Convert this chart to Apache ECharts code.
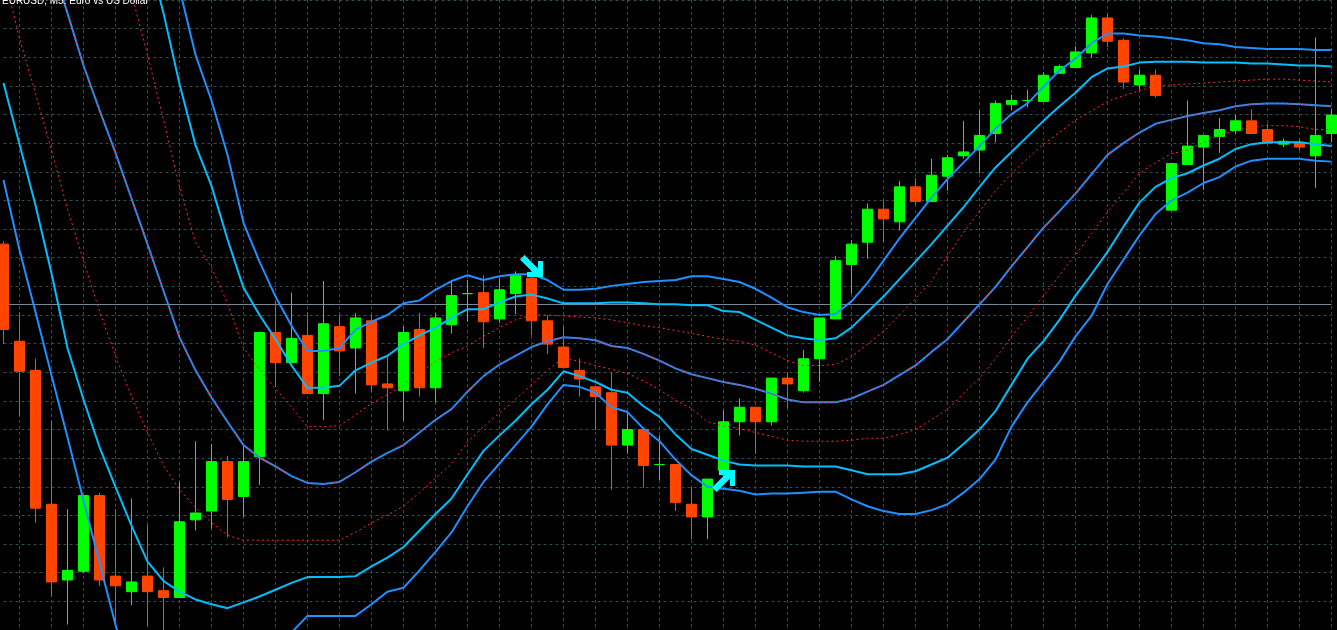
<!DOCTYPE html>
<html>
<head>
<meta charset="utf-8">
<title>EURUSD, M5</title>
<script src="https://cdn.jsdelivr.net/npm/echarts@6/dist/echarts.min.js"></script>
<style>
  html, body { margin: 0; padding: 0; background: #000; }
  #chart { width: 1337px; height: 630px; }
</style>
</head>
<body>
<div id="chart"></div>
<script>
// EURUSD M5 bars (oldest first)
var openP = [
  1.09520, 1.09320, 1.09260, 1.08984, 1.08828, 1.08846, 1.09002, 1.08836, 1.08804, 1.08836,
  1.08806, 1.08792, 1.08952, 1.08970, 1.09072, 1.09000, 1.09082, 1.09338, 1.09276, 1.09332,
  1.09212, 1.09350, 1.09306, 1.09362, 1.09232, 1.09218, 1.09344, 1.09224, 1.09354, 1.09418,
  1.09420, 1.09366, 1.09418, 1.09450, 1.09362, 1.09308, 1.09260, 1.09226, 1.09214, 1.09106,
  1.09138, 1.09066, 1.09066, 1.08984, 1.08958, 1.09054, 1.09154, 1.09184, 1.09154, 1.09244,
  1.09218, 1.09284, 1.09366, 1.09478, 1.09524, 1.09592, 1.09566, 1.09638, 1.09608, 1.09660,
  1.09702, 1.09714, 1.09748, 1.09808, 1.09816, 1.09814, 1.09872, 1.09884, 1.09914, 1.09986,
  1.09940, 1.09848, 1.09868, 1.09590, 1.09684, 1.09720, 1.09742, 1.09754, 1.09774, 1.09756,
  1.09726, 1.09730, 1.09702, 1.09748
];
var closeP = [
  1.09344, 1.09258, 1.08976, 1.08824, 1.08848, 1.09002, 1.08828, 1.08816, 1.08824, 1.08804,
  1.08792, 1.08948, 1.08966, 1.09072, 1.08994, 1.09072, 1.09338, 1.09276, 1.09326, 1.09212,
  1.09356, 1.09300, 1.09368, 1.09230, 1.09224, 1.09338, 1.09224, 1.09368, 1.09414, 1.09418,
  1.09360, 1.09426, 1.09456, 1.09362, 1.09314, 1.09266, 1.09242, 1.09206, 1.09106, 1.09138,
  1.09064, 1.09066, 1.08988, 1.08958, 1.09036, 1.09154, 1.09184, 1.09154, 1.09244, 1.09232,
  1.09284, 1.09368, 1.09486, 1.09520, 1.09592, 1.09572, 1.09638, 1.09608, 1.09662, 1.09698,
  1.09710, 1.09744, 1.09810, 1.09816, 1.09816, 1.09868, 1.09886, 1.09916, 1.09986, 1.09938,
  1.09854, 1.09868, 1.09826, 1.09686, 1.09722, 1.09744, 1.09756, 1.09774, 1.09748, 1.09728,
  1.09732, 1.09720, 1.09744, 1.09786
];
var lowP = [
  1.09314, 1.09166, 1.08946, 1.08794, 1.08736, 1.08842, 1.08816, 1.08736, 1.08776, 1.08732,
  1.08724, 1.08792, 1.08930, 1.08934, 1.08916, 1.08958, 1.09024, 1.09226, 1.09276, 1.09212,
  1.09158, 1.09248, 1.09212, 1.09216, 1.09136, 1.09156, 1.09206, 1.09194, 1.09336, 1.09360,
  1.09306, 1.09358, 1.09376, 1.09332, 1.09294, 1.09266, 1.09206, 1.09136, 1.09014, 1.09088,
  1.09018, 1.09034, 1.08970, 1.08912, 1.08912, 1.09040, 1.09126, 1.09088, 1.09146, 1.09182,
  1.09214, 1.09236, 1.09366, 1.09418, 1.09490, 1.09524, 1.09548, 1.09602, 1.09608, 1.09630,
  1.09696, 1.09666, 1.09730, 1.09796, 1.09802, 1.09814, 1.09872, 1.09884, 1.09904, 1.09926,
  1.09840, 1.09838, 1.09822, 1.09590, 1.09684, 1.09632, 1.09708, 1.09748, 1.09748, 1.09728,
  1.09720, 1.09714, 1.09636, 1.09730
];
var highP = [
  1.09526, 1.09378, 1.09284, 1.09156, 1.08974, 1.09002, 1.09008, 1.08974, 1.08996, 1.08942,
  1.08854, 1.09030, 1.09114, 1.09108, 1.09084, 1.09106, 1.09338, 1.09402, 1.09420, 1.09378,
  1.09444, 1.09374, 1.09378, 1.09374, 1.09290, 1.09350, 1.09378, 1.09378, 1.09442, 1.09446,
  1.09456, 1.09450, 1.09464, 1.09464, 1.09374, 1.09350, 1.09284, 1.09226, 1.09256, 1.09176,
  1.09138, 1.09126, 1.09066, 1.09020, 1.09036, 1.09178, 1.09202, 1.09184, 1.09244, 1.09256,
  1.09302, 1.09368, 1.09496, 1.09528, 1.09604, 1.09610, 1.09650, 1.09656, 1.09696, 1.09704,
  1.09774, 1.09796, 1.09816, 1.09828, 1.09838, 1.09874, 1.09890, 1.09928, 1.09992, 1.09994,
  1.09944, 1.09880, 1.09880, 1.09686, 1.09816, 1.09744, 1.09780, 1.09786, 1.09798, 1.09768,
  1.09738, 1.09738, 1.09946, 1.09798
];

// band indicator lines, one value per bar
var upOuter = [
  1.11340, 1.11240, 1.11140, 1.11040, 1.10930, 1.10820, 1.10700, 1.10580, 1.10450, 1.10320,
  1.10184, 1.10046, 1.09910, 1.09816, 1.09704, 1.09564, 1.09484, 1.09412, 1.09352, 1.09300,
  1.09300, 1.09306, 1.09344, 1.09360, 1.09374, 1.09398, 1.09404, 1.09426, 1.09444, 1.09456,
  1.09446, 1.09454, 1.09458, 1.09458, 1.09446, 1.09426, 1.09426, 1.09428, 1.09434, 1.09438,
  1.09442, 1.09444, 1.09446, 1.09454, 1.09454, 1.09448, 1.09442, 1.09428, 1.09410, 1.09390,
  1.09380, 1.09374, 1.09376, 1.09402, 1.09440, 1.09486, 1.09532, 1.09574, 1.09616, 1.09654,
  1.09688, 1.09722, 1.09758, 1.09788, 1.09810, 1.09844, 1.09878, 1.09902, 1.09934, 1.09954,
  1.09954, 1.09950, 1.09948, 1.09944, 1.09940, 1.09934, 1.09932, 1.09926, 1.09924, 1.09922,
  1.09922, 1.09922, 1.09920, 1.09920
];
var upInner = [
  1.11090, 1.11000, 1.10910, 1.10810, 1.10710, 1.10600, 1.10490, 1.10370, 1.10250, 1.10124,
  1.09996, 1.09850, 1.09724, 1.09640, 1.09530, 1.09430, 1.09374, 1.09324, 1.09270, 1.09224,
  1.09224, 1.09228, 1.09260, 1.09276, 1.09290, 1.09314, 1.09332, 1.09348, 1.09368, 1.09386,
  1.09386, 1.09400, 1.09412, 1.09416, 1.09408, 1.09398, 1.09398, 1.09398, 1.09400, 1.09400,
  1.09398, 1.09396, 1.09396, 1.09394, 1.09394, 1.09382, 1.09380, 1.09364, 1.09348, 1.09332,
  1.09326, 1.09322, 1.09326, 1.09348, 1.09380, 1.09412, 1.09448, 1.09484, 1.09520, 1.09558,
  1.09596, 1.09638, 1.09678, 1.09710, 1.09742, 1.09774, 1.09804, 1.09832, 1.09864, 1.09882,
  1.09886, 1.09894, 1.09896, 1.09896, 1.09896, 1.09894, 1.09894, 1.09894, 1.09892, 1.09892,
  1.09890, 1.09888, 1.09888, 1.09886
];
var upDot = [
  1.10900, 1.10800, 1.10700, 1.10596, 1.10490, 1.10380, 1.10270, 1.10156, 1.10036, 1.09910,
  1.09776, 1.09638, 1.09524, 1.09472, 1.09398, 1.09306, 1.09262, 1.09222, 1.09184, 1.09144,
  1.09144, 1.09146, 1.09168, 1.09192, 1.09210, 1.09230, 1.09254, 1.09278, 1.09296, 1.09310,
  1.09330, 1.09348, 1.09364, 1.09374, 1.09374, 1.09372, 1.09370, 1.09368, 1.09364, 1.09358,
  1.09352, 1.09348, 1.09342, 1.09336, 1.09330, 1.09324, 1.09320, 1.09312, 1.09296, 1.09280,
  1.09270, 1.09270, 1.09272, 1.09288, 1.09314, 1.09340, 1.09374, 1.09408, 1.09444, 1.09496,
  1.09544, 1.09588, 1.09630, 1.09666, 1.09696, 1.09726, 1.09750, 1.09776, 1.09794, 1.09814,
  1.09826, 1.09836, 1.09846, 1.09848, 1.09850, 1.09852, 1.09854, 1.09856, 1.09858, 1.09860,
  1.09860, 1.09858, 1.09856, 1.09854
];
var midLine = [
  1.10410, 1.10310, 1.10206, 1.10100, 1.09996, 1.09888, 1.09796, 1.09708, 1.09614, 1.09520,
  1.09424, 1.09328, 1.09260, 1.09204, 1.09154, 1.09106, 1.09080, 1.09062, 1.09042, 1.09028,
  1.09026, 1.09030, 1.09050, 1.09072, 1.09090, 1.09106, 1.09132, 1.09158, 1.09180, 1.09216,
  1.09248, 1.09272, 1.09290, 1.09308, 1.09320, 1.09328, 1.09326, 1.09322, 1.09310, 1.09306,
  1.09294, 1.09280, 1.09264, 1.09252, 1.09244, 1.09236, 1.09230, 1.09222, 1.09212, 1.09200,
  1.09194, 1.09194, 1.09194, 1.09202, 1.09216, 1.09230, 1.09250, 1.09270, 1.09298, 1.09324,
  1.09360, 1.09396, 1.09432, 1.09474, 1.09514, 1.09554, 1.09588, 1.09624, 1.09664, 1.09704,
  1.09728, 1.09750, 1.09768, 1.09776, 1.09784, 1.09790, 1.09796, 1.09804, 1.09808, 1.09810,
  1.09810, 1.09808, 1.09806, 1.09804
];
var loDot = [
  1.10080, 1.09944, 1.09830, 1.09714, 1.09592, 1.09486, 1.09382, 1.09290, 1.09206, 1.09132,
  1.09064, 1.09014, 1.08978, 1.08946, 1.08920, 1.08910, 1.08910, 1.08910, 1.08910, 1.08910,
  1.08910, 1.08910, 1.08926, 1.08946, 1.08962, 1.08980, 1.09008, 1.09038, 1.09068, 1.09112,
  1.09144, 1.09172, 1.09200, 1.09230, 1.09260, 1.09286, 1.09278, 1.09270, 1.09262, 1.09254,
  1.09238, 1.09220, 1.09198, 1.09182, 1.09154, 1.09146, 1.09140, 1.09132, 1.09124, 1.09116,
  1.09114, 1.09114, 1.09114, 1.09116, 1.09120, 1.09120, 1.09128, 1.09138, 1.09158, 1.09180,
  1.09212, 1.09244, 1.09284, 1.09330, 1.09370, 1.09414, 1.09456, 1.09498, 1.09542, 1.09586,
  1.09626, 1.09666, 1.09688, 1.09706, 1.09714, 1.09730, 1.09744, 1.09754, 1.09762, 1.09764,
  1.09764, 1.09762, 1.09756, 1.09756
];
var loInner = [
  1.09852, 1.09726, 1.09600, 1.09460, 1.09306, 1.09200, 1.09102, 1.09020, 1.08940, 1.08866,
  1.08826, 1.08804, 1.08788, 1.08778, 1.08770, 1.08782, 1.08794, 1.08808, 1.08822, 1.08834,
  1.08834, 1.08834, 1.08836, 1.08856, 1.08874, 1.08896, 1.08930, 1.08964, 1.08996, 1.09046,
  1.09094, 1.09126, 1.09156, 1.09190, 1.09220, 1.09258, 1.09248, 1.09236, 1.09220, 1.09214,
  1.09186, 1.09164, 1.09128, 1.09098, 1.09086, 1.09074, 1.09066, 1.09064, 1.09064, 1.09064,
  1.09062, 1.09062, 1.09062, 1.09054, 1.09046, 1.09046, 1.09046, 1.09052, 1.09066, 1.09080,
  1.09108, 1.09138, 1.09176, 1.09230, 1.09284, 1.09320, 1.09364, 1.09414, 1.09458, 1.09504,
  1.09556, 1.09606, 1.09638, 1.09656, 1.09666, 1.09682, 1.09696, 1.09716, 1.09726, 1.09730,
  1.09730, 1.09730, 1.09726, 1.09722
];
var loOuter = [
  1.09652, 1.09508, 1.09380, 1.09250, 1.09122, 1.08992, 1.08864, 1.08736, 1.08620, 1.08530,
  1.08470, 1.08440, 1.08440, 1.08460, 1.08510, 1.08576, 1.08630, 1.08676, 1.08720, 1.08754,
  1.08754, 1.08754, 1.08754, 1.08778, 1.08804, 1.08812, 1.08848, 1.08886, 1.08926, 1.08980,
  1.09030, 1.09068, 1.09106, 1.09144, 1.09190, 1.09230, 1.09226, 1.09214, 1.09184, 1.09174,
  1.09140, 1.09114, 1.09076, 1.09044, 1.09020, 1.09016, 1.09012, 1.09004, 1.09006, 1.09006,
  1.09008, 1.09010, 1.09010, 1.08994, 1.08980, 1.08970, 1.08964, 1.08964, 1.08972, 1.08984,
  1.09008, 1.09036, 1.09076, 1.09144, 1.09194, 1.09236, 1.09278, 1.09330, 1.09372, 1.09438,
  1.09488, 1.09538, 1.09582, 1.09610, 1.09626, 1.09646, 1.09658, 1.09680, 1.09692, 1.09696,
  1.09696, 1.09696, 1.09692, 1.09690
];

// signal arrows: bar index and price
var sellIdx = [33], sellPrice = [1.09475];
var buyIdx = [45], buyPrice = [1.09032];

// current bid line
var bidPrice = 1.09396;

(function () {
  var myChart = echarts.init(document.getElementById('chart'), null, { renderer: 'canvas' });

  var bars = openP.map(function (v, i) { return String(i); });
  var candles = openP.map(function (o, i) {
    return [o, closeP[i], lowP[i], highP[i]];
  });

  var gridLine = { color: '#2f4f4f', width: 1, type: [3, 3] };

  function band(data, color, width, dash, z) {
    return {
      type: 'line',
      data: data,
      symbol: 'none',
      silent: true,
      z: z,
      lineStyle: { color: color, width: width, type: dash || 'solid' }
    };
  }

  function arrows(idx, price, path) {
    return {
      type: 'scatter',
      data: idx.map(function (k, i) { return [k, price[i]]; }),
      symbol: path,
      symbolSize: [23, 22],
      silent: true,
      z: 6,
      itemStyle: { color: '#00ffff', opacity: 1 }
    };
  }

  // the outer upper band also carries the bid line (drawn under the bars)
  var upOuterSeries = band(upOuter, '#1e90ff', 2, null, 3);
  upOuterSeries.markLine = {
    silent: true,
    z: 1,
    precision: 5,
    symbol: ['none', 'none'],
    label: { show: false },
    lineStyle: { color: '#778899', width: 1, type: 'solid' },
    data: [{ yAxis: bidPrice }]
  };

  var option = {
    backgroundColor: '#000000',
    animation: false,
    title: {
      text: 'EURUSD, M5: Euro vs US Dollar',
      left: 2,
      top: -4,
      padding: 0,
      textStyle: { color: '#ffffff', fontSize: 10, fontWeight: 'normal', fontFamily: 'Liberation Sans' }
    },
    grid: { left: 3.5, right: 5.5, top: -11.5, bottom: -7.5 },
    xAxis: {
      type: 'category',
      data: bars,
      boundaryGap: false,
      axisLine: { show: false },
      axisTick: { show: false },
      axisLabel: { show: false },
      splitLine: {
        show: true,
        interval: function (i) { return i % 2 === 1; },
        lineStyle: gridLine
      }
    },
    yAxis: {
      type: 'value',
      min: 1.08725,
      max: 1.10023,
      interval: 0.00059,
      axisLine: { show: false },
      axisTick: { show: false },
      axisLabel: { show: false },
      splitLine: { show: true, lineStyle: gridLine }
    },
    series: [
      {
        type: 'candlestick',
        data: candles,
        barWidth: 10,
        clip: false,
        silent: true,
        z: 2,
        itemStyle: {
          color: '#00ff00',
          color0: '#ff4500',
          borderColor: '#00ff00',
          borderColor0: '#ff4500',
          borderColorDoji: '#00ff00',
          borderWidth: 1
        }
      },
      upOuterSeries,
      band(upInner, '#00bfff', 2, null, 3),
      band(midLine, '#1e90ff', 2, null, 3),
      band(loInner, '#00bfff', 2, null, 3),
      band(loOuter, '#1e90ff', 2, null, 3),
      band(upDot, '#ff2a2a', 1, [2, 3], 4),
      band(midLine, '#ff2a2a', 1, [2, 3], 4),
      band(loDot, '#ff2a2a', 1, [2, 3], 4),
      arrows(sellIdx, sellPrice, 'path://M23,22L7,22L7,17L12.5,17L0,4.5L4.5,0L18,13.5L18,6L23,6Z'),
      arrows(buyIdx, buyPrice, 'path://M23,0L7,0L7,5L12.5,5L0,17.5L4.5,22L18,8.5L18,16L23,16Z')
    ]
  };

  myChart.setOption(option);

  window.addEventListener('resize', function () {
    myChart.resize();
  });
})();
</script>
</body>
</html>
